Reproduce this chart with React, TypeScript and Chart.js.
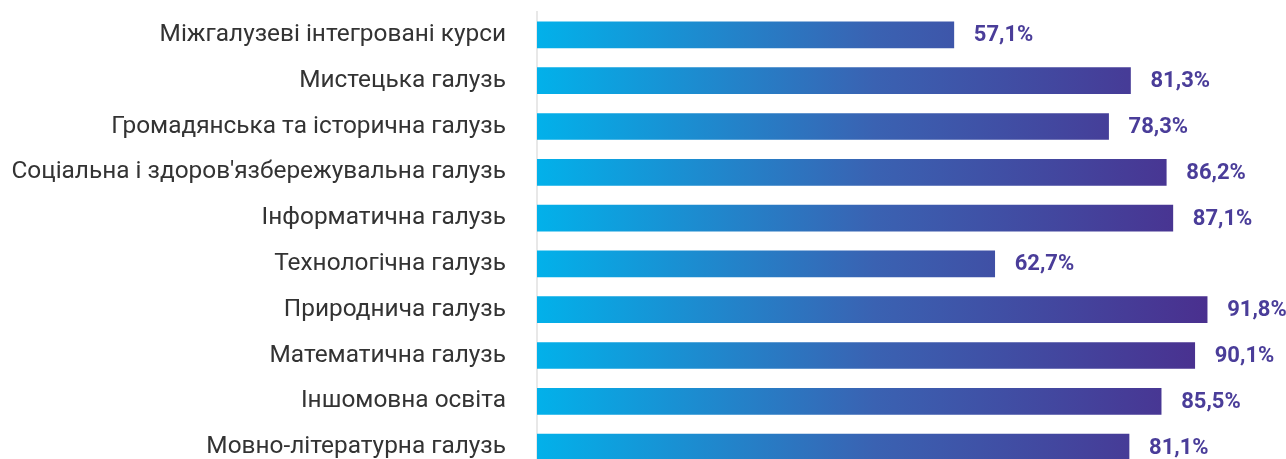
import React, { useEffect, useRef } from "react";
import { Chart, registerables } from "chart.js";

Chart.register(...registerables);

const categories = [
  "Міжгалузеві інтегровані курси",
  "Мистецька галузь",
  "Громадянська та історична галузь",
  "Соціальна і здоров'язбережувальна галузь",
  "Інформатична галузь",
  "Технологічна галузь",
  "Природнича галузь",
  "Математична галузь",
  "Іншомовна освіта",
  "Мовно-літературна галузь",
];

const values = [57.1, 81.3, 78.3, 86.2, 87.1, 62.7, 91.8, 90.1, 85.5, 81.1];

const axisMax = 100;

export default function App() {
  const ref = useRef<HTMLCanvasElement | null>(null);

  useEffect(() => {
    document.body.style.margin = "0";
    const canvas = ref.current;
    if (!canvas) return;

    const valueLabels = {
      id: "valueLabels",
      afterDatasetsDraw(chart: any) {
        const ctx = chart.ctx;
        const meta = chart.getDatasetMeta(0);
        ctx.save();
        ctx.font = "bold 22px Roboto";
        ctx.fillStyle = "#4A3D99";
        ctx.textAlign = "left";
        ctx.textBaseline = "middle";
        meta.data.forEach((bar: any, i: number) => {
          const txt = values[i].toFixed(1).replace(".", ",") + "%";
          ctx.fillText(txt, bar.x + 20, bar.y + 1);
        });
        ctx.restore();
      },
    };

    const chart = new Chart(canvas, {
      type: "bar",
      data: {
        labels: categories,
        datasets: [
          {
            data: values,
            barThickness: 26,
            borderWidth: 0,
            backgroundColor: (c: any) => {
              const area = c.chart.chartArea;
              if (!area) return "#2a7ac8";
              const g = c.chart.ctx.createLinearGradient(area.left, 0, area.right - 55, 0);
              g.addColorStop(0, "#02B1EA");
              g.addColorStop(0.5, "#3A62B2");
              g.addColorStop(1, "#4A2F8E");
              return g;
            },
          },
        ],
      },
      options: {
        indexAxis: "y",
        responsive: false,
        animation: false,
        layout: { padding: { top: 12, bottom: 2, right: 19, left: 0 } },
        plugins: {
          legend: { display: false },
          tooltip: { enabled: false },
        },
        scales: {
          x: {
            display: false,
            min: 0,
            max: axisMax,
          },
          y: {
            afterFit: (scale: any) => {
              scale.width = 537;
              scale.paddingTop = 0;
              scale.paddingBottom = 0;
            },
            grid: { display: false, drawTicks: false },
            border: { display: true, color: "#E8E8E8", width: 2 },
            ticks: {
              padding: 31,
              color: "#333333",
              font: { family: "Roboto", size: 24.4 },
            },
          },
        },
      },
      plugins: [valueLabels],
    });

    return () => chart.destroy();
  }, []);

  return <canvas ref={ref} width={1286} height={472} style={{ display: "block" }} />;
}
